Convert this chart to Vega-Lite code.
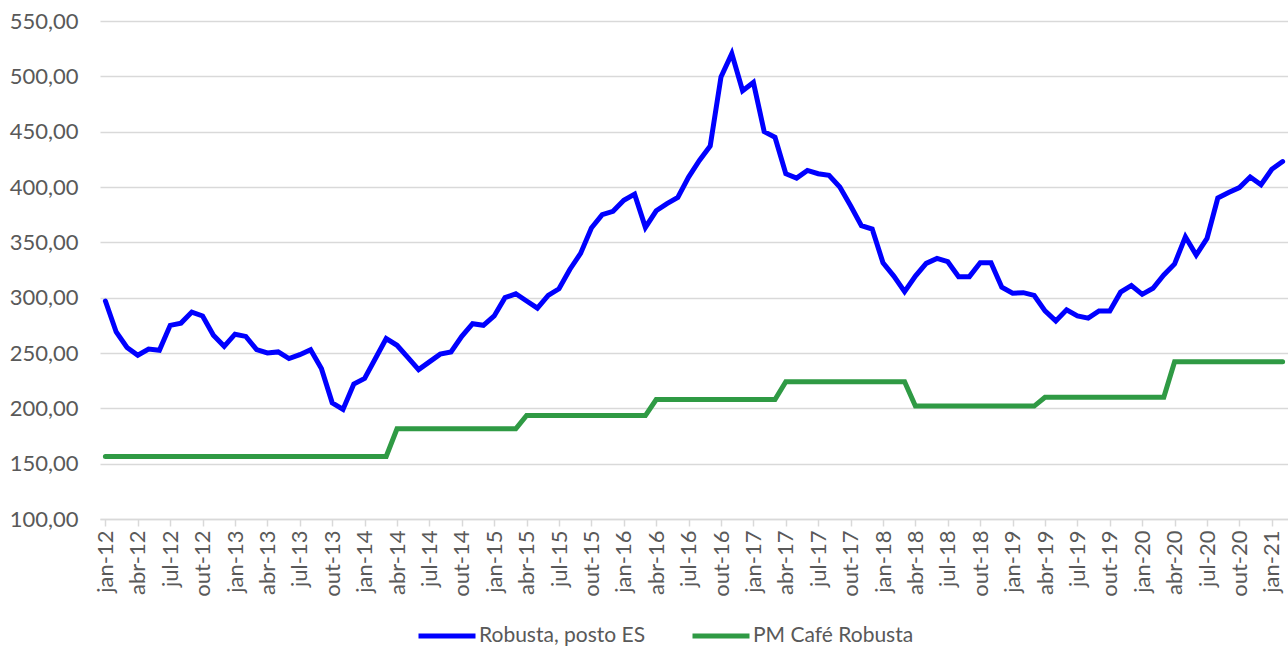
{
  "$schema": "https://vega.github.io/schema/vega-lite/v6.json",
  "width": 1188,
  "height": 498,
  "autosize": "none",
  "padding": {"left": 100, "top": 21, "right": 0, "bottom": 127},
  "background": "white",
  "config": {"view": {"stroke": null}, "font": "Lato"},
  "data": {"values": [
    {"mes":"jan-12","Robusta, posto ES":297,"PM Café Robusta":156.5},
    {"mes":"fev-12","Robusta, posto ES":269,"PM Café Robusta":156.5},
    {"mes":"mar-12","Robusta, posto ES":255,"PM Café Robusta":156.5},
    {"mes":"abr-12","Robusta, posto ES":248,"PM Café Robusta":156.5},
    {"mes":"mai-12","Robusta, posto ES":253.5,"PM Café Robusta":156.5},
    {"mes":"jun-12","Robusta, posto ES":252.5,"PM Café Robusta":156.5},
    {"mes":"jul-12","Robusta, posto ES":275,"PM Café Robusta":156.5},
    {"mes":"ago-12","Robusta, posto ES":277,"PM Café Robusta":156.5},
    {"mes":"set-12","Robusta, posto ES":287,"PM Café Robusta":156.5},
    {"mes":"out-12","Robusta, posto ES":283.5,"PM Café Robusta":156.5},
    {"mes":"nov-12","Robusta, posto ES":266,"PM Café Robusta":156.5},
    {"mes":"dez-12","Robusta, posto ES":256,"PM Café Robusta":156.5},
    {"mes":"jan-13","Robusta, posto ES":267,"PM Café Robusta":156.5},
    {"mes":"fev-13","Robusta, posto ES":265,"PM Café Robusta":156.5},
    {"mes":"mar-13","Robusta, posto ES":253,"PM Café Robusta":156.5},
    {"mes":"abr-13","Robusta, posto ES":250,"PM Café Robusta":156.5},
    {"mes":"mai-13","Robusta, posto ES":251,"PM Café Robusta":156.5},
    {"mes":"jun-13","Robusta, posto ES":245,"PM Café Robusta":156.5},
    {"mes":"jul-13","Robusta, posto ES":248.5,"PM Café Robusta":156.5},
    {"mes":"ago-13","Robusta, posto ES":253,"PM Café Robusta":156.5},
    {"mes":"set-13","Robusta, posto ES":236,"PM Café Robusta":156.5},
    {"mes":"out-13","Robusta, posto ES":205,"PM Café Robusta":156.5},
    {"mes":"nov-13","Robusta, posto ES":199,"PM Café Robusta":156.5},
    {"mes":"dez-13","Robusta, posto ES":222,"PM Café Robusta":156.5},
    {"mes":"jan-14","Robusta, posto ES":227,"PM Café Robusta":156.5},
    {"mes":"fev-14","Robusta, posto ES":245,"PM Café Robusta":156.5},
    {"mes":"mar-14","Robusta, posto ES":263,"PM Café Robusta":156.5},
    {"mes":"abr-14","Robusta, posto ES":257,"PM Café Robusta":181.5},
    {"mes":"mai-14","Robusta, posto ES":246,"PM Café Robusta":181.5},
    {"mes":"jun-14","Robusta, posto ES":235,"PM Café Robusta":181.5},
    {"mes":"jul-14","Robusta, posto ES":242,"PM Café Robusta":181.5},
    {"mes":"ago-14","Robusta, posto ES":249,"PM Café Robusta":181.5},
    {"mes":"set-14","Robusta, posto ES":251,"PM Café Robusta":181.5},
    {"mes":"out-14","Robusta, posto ES":265,"PM Café Robusta":181.5},
    {"mes":"nov-14","Robusta, posto ES":276.5,"PM Café Robusta":181.5},
    {"mes":"dez-14","Robusta, posto ES":275,"PM Café Robusta":181.5},
    {"mes":"jan-15","Robusta, posto ES":283.5,"PM Café Robusta":181.5},
    {"mes":"fev-15","Robusta, posto ES":300,"PM Café Robusta":181.5},
    {"mes":"mar-15","Robusta, posto ES":303.5,"PM Café Robusta":181.5},
    {"mes":"abr-15","Robusta, posto ES":297,"PM Café Robusta":193.5},
    {"mes":"mai-15","Robusta, posto ES":290.5,"PM Café Robusta":193.5},
    {"mes":"jun-15","Robusta, posto ES":302,"PM Café Robusta":193.5},
    {"mes":"jul-15","Robusta, posto ES":308,"PM Café Robusta":193.5},
    {"mes":"ago-15","Robusta, posto ES":325.5,"PM Café Robusta":193.5},
    {"mes":"set-15","Robusta, posto ES":340,"PM Café Robusta":193.5},
    {"mes":"out-15","Robusta, posto ES":363,"PM Café Robusta":193.5},
    {"mes":"nov-15","Robusta, posto ES":375,"PM Café Robusta":193.5},
    {"mes":"dez-15","Robusta, posto ES":378,"PM Café Robusta":193.5},
    {"mes":"jan-16","Robusta, posto ES":388,"PM Café Robusta":193.5},
    {"mes":"fev-16","Robusta, posto ES":393.5,"PM Café Robusta":193.5},
    {"mes":"mar-16","Robusta, posto ES":363.5,"PM Café Robusta":193.5},
    {"mes":"abr-16","Robusta, posto ES":378.5,"PM Café Robusta":208},
    {"mes":"mai-16","Robusta, posto ES":385,"PM Café Robusta":208},
    {"mes":"jun-16","Robusta, posto ES":390.5,"PM Café Robusta":208},
    {"mes":"jul-16","Robusta, posto ES":409,"PM Café Robusta":208},
    {"mes":"ago-16","Robusta, posto ES":424,"PM Café Robusta":208},
    {"mes":"set-16","Robusta, posto ES":437,"PM Café Robusta":208},
    {"mes":"out-16","Robusta, posto ES":499.5,"PM Café Robusta":208},
    {"mes":"nov-16","Robusta, posto ES":520.5,"PM Café Robusta":208},
    {"mes":"dez-16","Robusta, posto ES":487,"PM Café Robusta":208},
    {"mes":"jan-17","Robusta, posto ES":494.5,"PM Café Robusta":208},
    {"mes":"fev-17","Robusta, posto ES":450,"PM Café Robusta":208},
    {"mes":"mar-17","Robusta, posto ES":445,"PM Café Robusta":208},
    {"mes":"abr-17","Robusta, posto ES":412,"PM Café Robusta":224},
    {"mes":"mai-17","Robusta, posto ES":408,"PM Café Robusta":224},
    {"mes":"jun-17","Robusta, posto ES":415,"PM Café Robusta":224},
    {"mes":"jul-17","Robusta, posto ES":412,"PM Café Robusta":224},
    {"mes":"ago-17","Robusta, posto ES":410.5,"PM Café Robusta":224},
    {"mes":"set-17","Robusta, posto ES":400,"PM Café Robusta":224},
    {"mes":"out-17","Robusta, posto ES":383,"PM Café Robusta":224},
    {"mes":"nov-17","Robusta, posto ES":365,"PM Café Robusta":224},
    {"mes":"dez-17","Robusta, posto ES":362,"PM Café Robusta":224},
    {"mes":"jan-18","Robusta, posto ES":331.5,"PM Café Robusta":224},
    {"mes":"fev-18","Robusta, posto ES":319.5,"PM Café Robusta":224},
    {"mes":"mar-18","Robusta, posto ES":305.5,"PM Café Robusta":224},
    {"mes":"abr-18","Robusta, posto ES":319.5,"PM Café Robusta":202},
    {"mes":"mai-18","Robusta, posto ES":331,"PM Café Robusta":202},
    {"mes":"jun-18","Robusta, posto ES":335.5,"PM Café Robusta":202},
    {"mes":"jul-18","Robusta, posto ES":332.5,"PM Café Robusta":202},
    {"mes":"ago-18","Robusta, posto ES":319,"PM Café Robusta":202},
    {"mes":"set-18","Robusta, posto ES":319,"PM Café Robusta":202},
    {"mes":"out-18","Robusta, posto ES":331.5,"PM Café Robusta":202},
    {"mes":"nov-18","Robusta, posto ES":331.5,"PM Café Robusta":202},
    {"mes":"dez-18","Robusta, posto ES":309.5,"PM Café Robusta":202},
    {"mes":"jan-19","Robusta, posto ES":304,"PM Café Robusta":202},
    {"mes":"fev-19","Robusta, posto ES":304.5,"PM Café Robusta":202},
    {"mes":"mar-19","Robusta, posto ES":302,"PM Café Robusta":202},
    {"mes":"abr-19","Robusta, posto ES":288,"PM Café Robusta":210},
    {"mes":"mai-19","Robusta, posto ES":279,"PM Café Robusta":210},
    {"mes":"jun-19","Robusta, posto ES":289,"PM Café Robusta":210},
    {"mes":"jul-19","Robusta, posto ES":283.5,"PM Café Robusta":210},
    {"mes":"ago-19","Robusta, posto ES":281.5,"PM Café Robusta":210},
    {"mes":"set-19","Robusta, posto ES":288,"PM Café Robusta":210},
    {"mes":"out-19","Robusta, posto ES":288,"PM Café Robusta":210},
    {"mes":"nov-19","Robusta, posto ES":305,"PM Café Robusta":210},
    {"mes":"dez-19","Robusta, posto ES":311,"PM Café Robusta":210},
    {"mes":"jan-20","Robusta, posto ES":303,"PM Café Robusta":210},
    {"mes":"fev-20","Robusta, posto ES":308.5,"PM Café Robusta":210},
    {"mes":"mar-20","Robusta, posto ES":320.5,"PM Café Robusta":210},
    {"mes":"abr-20","Robusta, posto ES":330.5,"PM Café Robusta":242},
    {"mes":"mai-20","Robusta, posto ES":355,"PM Café Robusta":242},
    {"mes":"jun-20","Robusta, posto ES":338.5,"PM Café Robusta":242},
    {"mes":"jul-20","Robusta, posto ES":353.5,"PM Café Robusta":242},
    {"mes":"ago-20","Robusta, posto ES":390,"PM Café Robusta":242},
    {"mes":"set-20","Robusta, posto ES":395,"PM Café Robusta":242},
    {"mes":"out-20","Robusta, posto ES":399.5,"PM Café Robusta":242},
    {"mes":"nov-20","Robusta, posto ES":409,"PM Café Robusta":242},
    {"mes":"dez-20","Robusta, posto ES":402,"PM Café Robusta":242},
    {"mes":"jan-21","Robusta, posto ES":416,"PM Café Robusta":242},
    {"mes":"fev-21","Robusta, posto ES":423,"PM Café Robusta":242}
  ]},
  "transform": [
    {"fold": ["Robusta, posto ES", "PM Café Robusta"], "as": ["serie", "valor"]}
  ],
  "mark": {"type": "line", "strokeWidth": 5, "strokeJoin": "miter", "strokeCap": "round", "clip": false},
  "encoding": {
    "x": {
      "field": "mes", "type": "ordinal", "sort": null,
      "scale": {"type": "point", "padding": 0.5},
      "axis": {
        "title": null,
        "values": ["jan-12","abr-12","jul-12","out-12","jan-13","abr-13","jul-13","out-13","jan-14","abr-14","jul-14","out-14","jan-15","abr-15","jul-15","out-15","jan-16","abr-16","jul-16","out-16","jan-17","abr-17","jul-17","out-17","jan-18","abr-18","jul-18","out-18","jan-19","abr-19","jul-19","out-19","jan-20","abr-20","jul-20","out-20","jan-21"],
        "labelAngle": -90,
        "labelFontSize": 22,
        "labelColor": "#595959",
        "labelPadding": 4,
        "domainColor": "#d9d9d9",
        "domainWidth": 1.5,
        "tickColor": "#d9d9d9",
        "tickSize": 7,
        "tickWidth": 1.5,
        "bandPosition": 0,
        "grid": false
      }
    },
    "y": {
      "field": "valor", "type": "quantitative",
      "scale": {"domain": [100, 550], "nice": false, "zero": false},
      "axis": {
        "title": null,
        "values": [100,150,200,250,300,350,400,450,500,550],
        "labelExpr": "replace(format(datum.value, '.2f'), '.', ',')",
        "labelFontSize": 22,
        "labelColor": "#595959",
        "labelPadding": 22,
        "domain": false,
        "ticks": false,
        "grid": true,
        "gridColor": "#d9d9d9",
        "gridWidth": 1.5
      }
    },
    "color": {
      "field": "serie", "type": "nominal",
      "scale": {"domain": ["Robusta, posto ES", "PM Café Robusta"], "range": ["#0000ff", "#2f9a44"]},
      "legend": {
        "title": null,
        "orient": "none",
        "direction": "horizontal",
        "legendX": 316,
        "legendY": 584,
        "symbolType": "stroke",
        "symbolSize": 3249,
        "symbolStrokeWidth": 5,
        "labelFontSize": 21,
        "labelColor": "#595959",
        "labelOffset": 1,
        "labelLimit": 400,
        "columnPadding": 36
      }
    }
  }
}
